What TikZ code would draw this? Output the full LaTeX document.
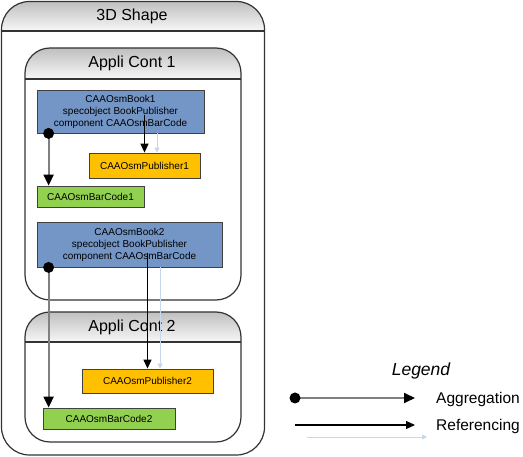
\documentclass[tikz,border=0pt]{standalone}
\usepackage{fontspec}
\setmainfont{Liberation Sans}
\usetikzlibrary{arrows.meta}

\definecolor{bookblue}{RGB}{115,150,199}
\definecolor{puborange}{RGB}{255,192,0}
\definecolor{codegreen}{RGB}{146,208,80}
\definecolor{reffaint}{RGB}{200,215,235}

\tikzset{
  obj/.style={draw=black!75, line width=0.8pt, inner sep=0pt, align=center, font=\fontsize{10}{12}\selectfont},
  book/.style={obj, fill=bookblue},
  pub/.style={obj, fill=puborange},
  code/.style={obj, fill=codegreen},
  aggr/.style={draw=black!50, line width=2pt, -{Triangle[black,width=10pt,length=11pt]}},
  refer/.style={black, line width=1.3pt, -{Triangle[width=8pt,length=9pt]}},
  faint/.style={reffaint, line width=0.8pt, -{Triangle[width=5pt,length=5pt]}},
  head/.style={font=\fontsize{16}{18}\selectfont},
  legtext/.style={anchor=base west, inner sep=0pt, font=\fontsize{15.5}{18}\selectfont},
}

% container: x1, y1, x2, y2, header line y, corner radius
\newcommand{\drawcont}[6]{%
  \fill[white, rounded corners=#6] (#1,#2) rectangle (#3,#4);
  \begin{scope}
    \clip[rounded corners=#6] (#1,#2) rectangle (#3,#4);
    \shade[top color=black!25, bottom color=black!3] (#1,#2) rectangle (#3,#5);
  \end{scope}
  \draw[black!80, line width=1.2pt, rounded corners=#6] (#1,#2) rectangle (#3,#4);
  \draw[black!80, line width=1.2pt] (#1,#5) -- (#3,#5);
}

\begin{document}
\begin{tikzpicture}[x=1pt, y=-1pt]
    \useasboundingbox (0,0) rectangle (523,457);

    % Containers
    \drawcont{1.5}{1.5}{264.5}{455}{31}{28pt}
    \drawcont{25}{48}{241}{300}{79}{25pt}
    \drawcont{25}{312}{241}{442}{342}{25pt}

    \node[head] (shapetitle) at (132,16) {3D Shape};
    \node[head] (cont1title) at (132,63) {Appli Cont 1};
    \node[head] (cont2title) at (132,327) {Appli Cont 2};

    % Objects
    \node[book, minimum width=167pt, minimum height=43pt] (book1) at (120.5,111.5)
        {CAAOsmBook1\\specobject BookPublisher\\component CAAOsmBarCode};
    \node[pub, minimum width=111pt, minimum height=25pt] (pub1) at (144.5,165.5) {CAAOsmPublisher1};
    \node[code, minimum width=107pt, minimum height=21pt] (code1) at (90.5,196.5) {CAAOsmBarCode1};

    \node[book, minimum width=185pt, minimum height=45pt] (book2) at (129.5,244.5)
        {CAAOsmBook2\\specobject BookPublisher\\component CAAOsmBarCode};
    \node[pub, minimum width=131pt, minimum height=24pt] (pub2) at (147.5,381) {CAAOsmPublisher2};
    \node[code, minimum width=132pt, minimum height=21pt] (code2) at (109,418.5) {CAAOsmBarCode2};

    % Aggregation
    \coordinate (agg1) at ([xshift=12pt]book1.south west);
    \coordinate (agg2) at ([xshift=12pt]book2.south west);
    \draw[aggr] (agg1) -- (agg1 |- code1.north);
    \draw[aggr] (agg2) -- (agg2 |- code2.north);
    \fill (agg1) circle (5.5pt);
    \fill (agg2) circle (5.5pt);

    % Referencing
    \coordinate (ref1) at (book1.center -| pub1.north);
    \coordinate (ref2) at (book2.center -| pub2.north);
    \draw[refer] ([yshift=-4pt]ref1) -- (pub1.north);
    \draw[refer] ([yshift=-8.5pt]ref2) -- (pub2.north);

    \coordinate (fnt1) at ([xshift=12.5pt]pub1.north);
    \coordinate (fnt2) at ([xshift=12.5pt]pub2.north);
    \draw[faint] (fnt1 |- book1.south) -- (fnt1);
    \draw[faint] (fnt2 |- book2.south) -- (fnt2);

    % Legend
    \node[anchor=base, font=\itshape\fontsize{17.5}{20}\selectfont] (legend) at (421,376) {Legend};
    \node[legtext] (aggtext) at (436,404) {Aggregation};
    \node[legtext] (reftext) at (436,431) {Referencing};
    \coordinate (aggstart) at (295,398);
    \coordinate (refstart) at (295,425);
    \coordinate (fntstart) at (307,437);
    \draw[aggr] (aggstart) -- (aggstart -| 415,0);
    \fill (aggstart) circle (5.5pt);
    \draw[refer] (refstart) -- (refstart -| 415,0);
    \draw[faint] (fntstart) -- (fntstart -| 427,0);
\end{tikzpicture}
\end{document}
